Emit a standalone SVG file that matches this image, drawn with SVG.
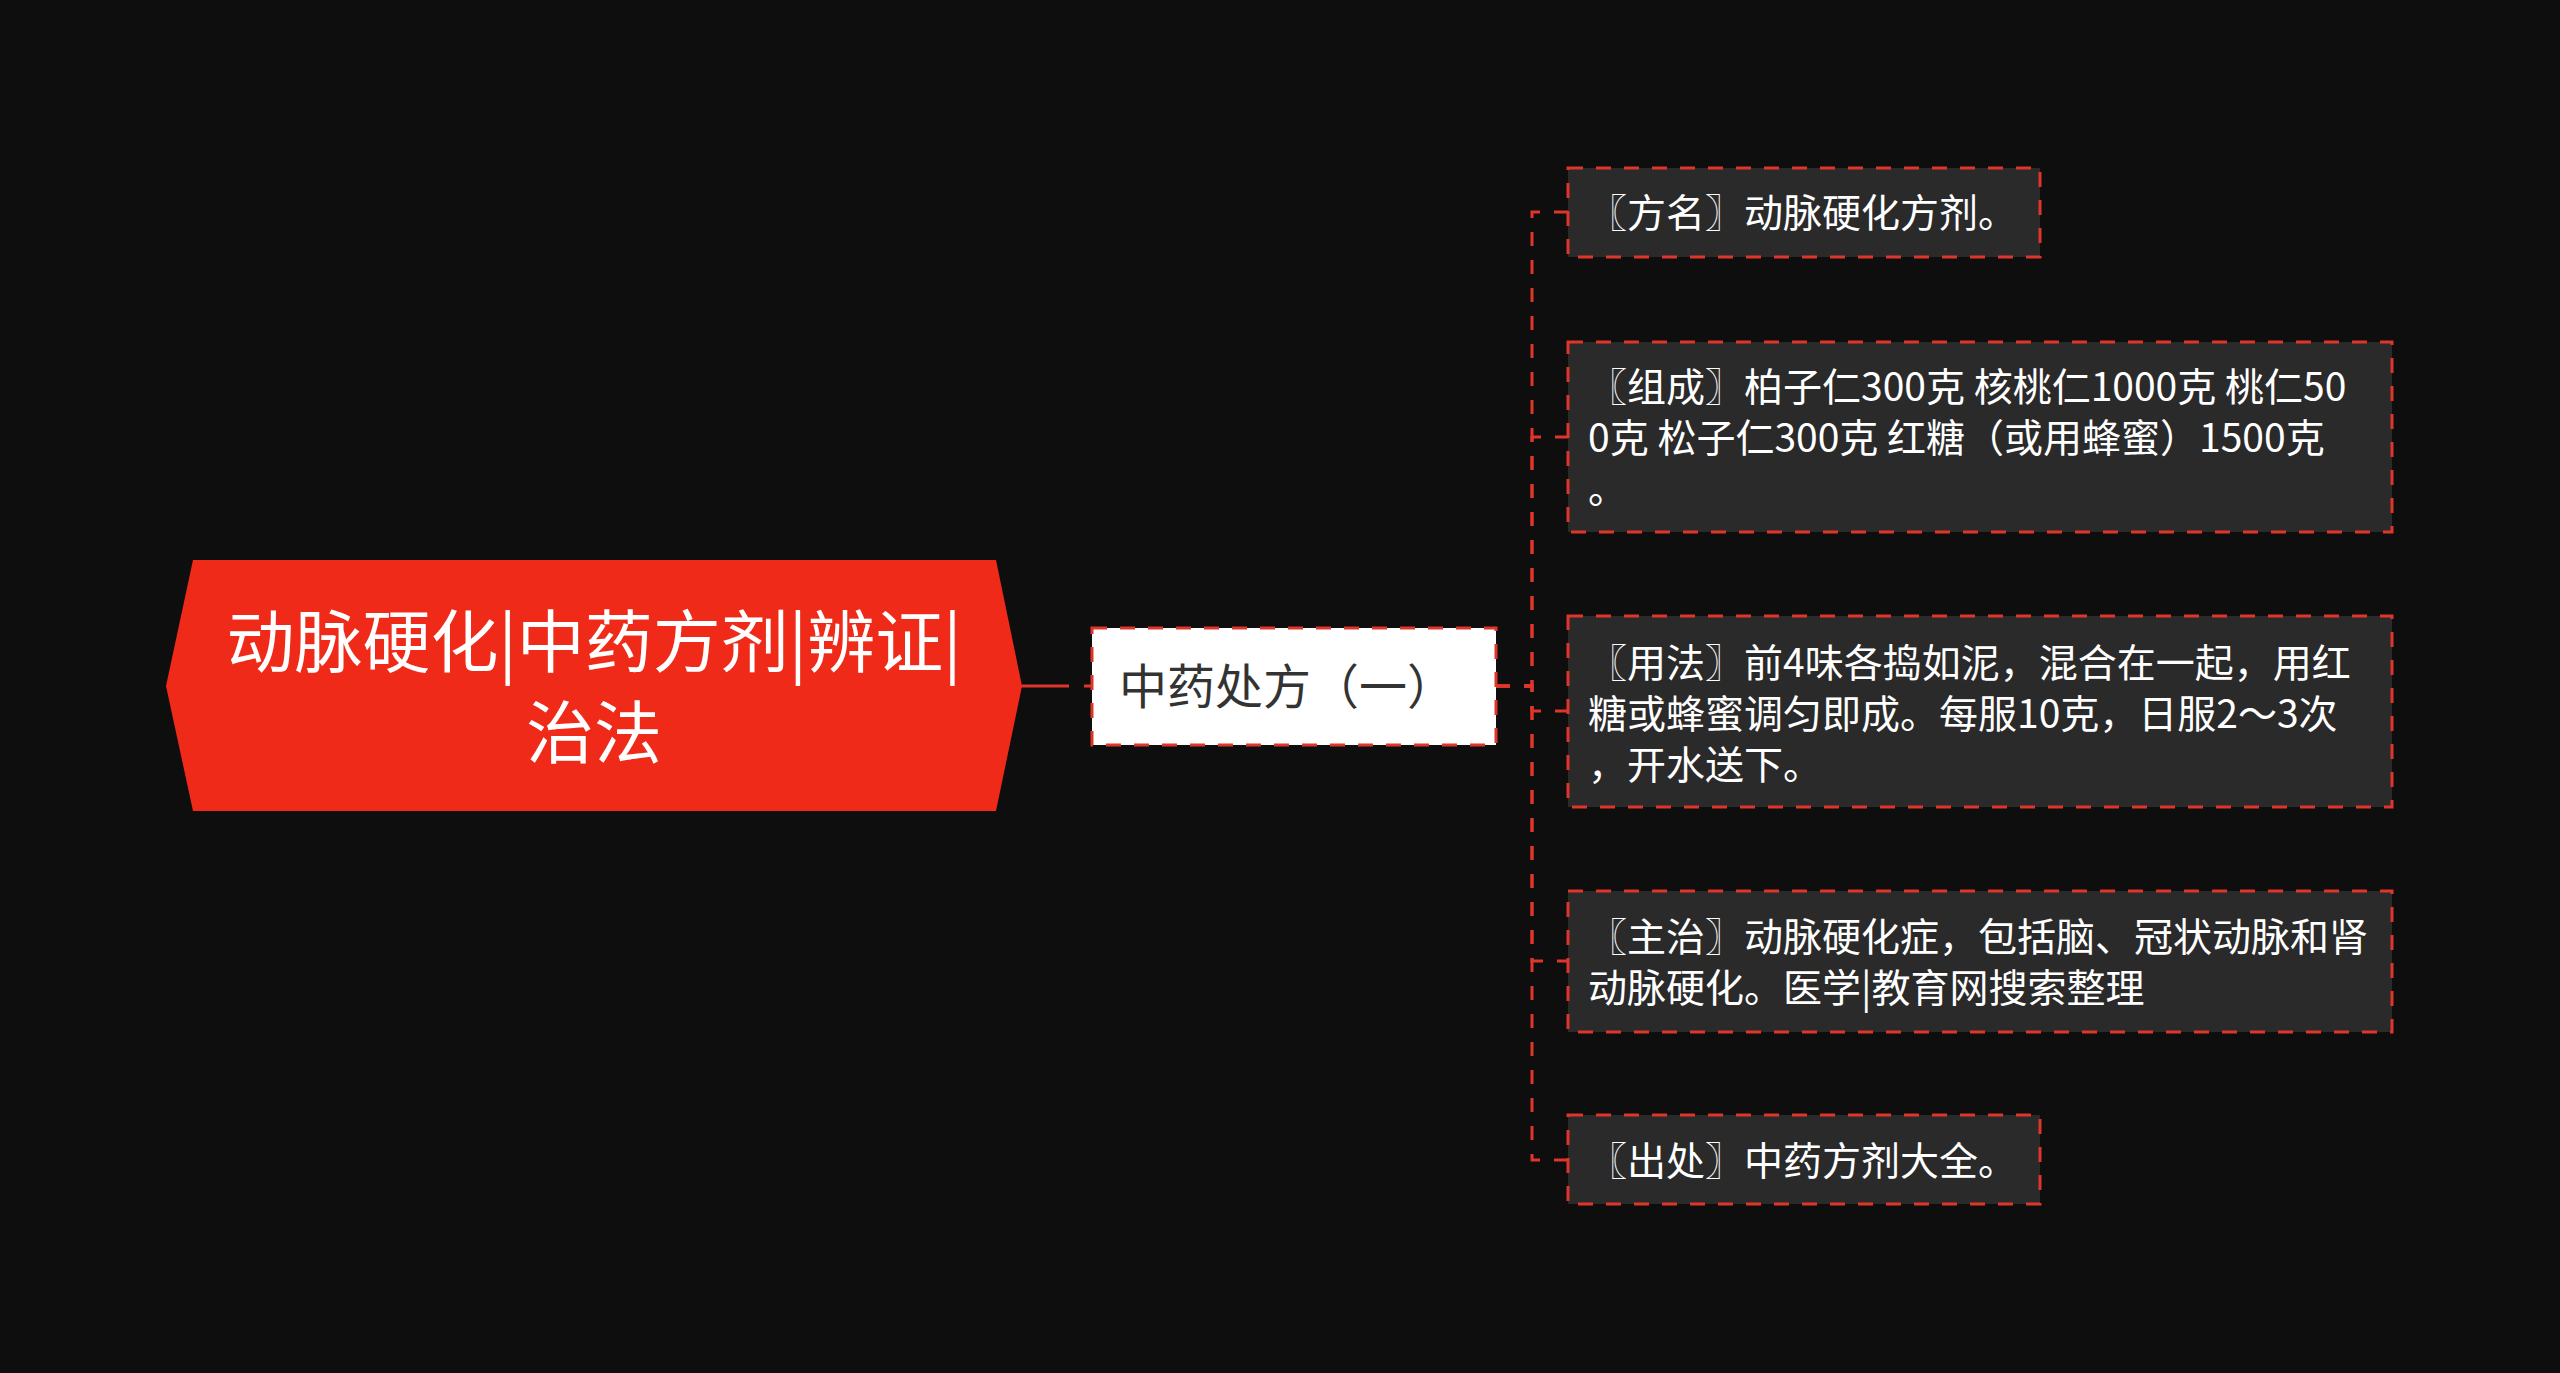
<svg xmlns="http://www.w3.org/2000/svg" width="2560" height="1373" viewBox="0 0 2560 1373">
<style>
.conn{fill:none;stroke:#E0352A;stroke-width:3;stroke-dasharray:14 14}
.box{fill:#2A2A2A;stroke:#E0352A;stroke-width:3;stroke-dasharray:15 13}
.t{font-family:"Noto Sans CJK SC","Noto Sans",sans-serif;fill:#FFFFFF;font-size:39px}
.rt{font-family:"Noto Sans CJK SC","Noto Sans",sans-serif;fill:#FFFFFF;font-size:68px;text-anchor:middle}
.st{font-family:"Noto Sans CJK SC","Noto Sans",sans-serif;fill:#333333;font-size:48px}
</style>
<rect x="0" y="0" width="2560" height="1373" fill="#0E0E0E"/>
<g id="connectors">
<path d="M996,686 H1092" fill="none" stroke="#E0352A" stroke-width="3" stroke-dasharray="73 15 20"/>
<path class="conn" d="M1496,686 H1532 V212 H1568"/>
<path class="conn" d="M1496,686 H1532 V437 H1568"/>
<path class="conn" d="M1496,686 H1532 V711 H1568"/>
<path class="conn" d="M1496,686 H1532 V961 H1568"/>
<path class="conn" d="M1496,686 H1532 V1160 H1568"/>
</g>
<g id="root">
<polygon points="166,686 193,560 996,560 1022,686 996,811 193,811" fill="#F02A18"/>
<text class="rt" x="594" y="667">动脉硬化|中药方剂|辨证|</text>
<text class="rt" x="594" y="758">治法</text>
</g>
<g id="sub">
<rect x="1092" y="628" width="404" height="117" fill="#FFFFFF" stroke="#E0352A" stroke-width="3" stroke-dasharray="15 13"/>
<text class="st" x="1119" y="704">中药处方（一）</text>
</g>
<g id="c1">
<rect class="box" x="1568" y="168" width="472" height="89"/>
<text class="t" x="1588" y="227">〖方名〗动脉硬化方剂。</text>
</g>
<g id="c2">
<rect class="box" x="1568" y="342" width="824" height="190"/>
<text class="t" x="1588" y="401">〖组成〗柏子仁300克 核桃仁1000克 桃仁50</text>
<text class="t" x="1588" y="452">0克 松子仁300克 红糖（或用蜂蜜）1500克</text>
<text class="t" x="1588" y="503">。</text>
</g>
<g id="c3">
<rect class="box" x="1568" y="616" width="824" height="191"/>
<text class="t" x="1588" y="677">〖用法〗前4味各捣如泥，混合在一起，用红</text>
<text class="t" x="1588" y="728">糖或蜂蜜调匀即成。每服10克，日服2～3次</text>
<text class="t" x="1588" y="779">，开水送下。</text>
</g>
<g id="c4">
<rect class="box" x="1568" y="891" width="824" height="141"/>
<text class="t" x="1588" y="951">〖主治〗动脉硬化症，包括脑、冠状动脉和肾</text>
<text class="t" x="1588" y="1002">动脉硬化。医学|教育网搜索整理</text>
</g>
<g id="c5">
<rect class="box" x="1568" y="1115" width="472" height="89"/>
<text class="t" x="1588" y="1175">〖出处〗中药方剂大全。</text>
</g>
</svg>
